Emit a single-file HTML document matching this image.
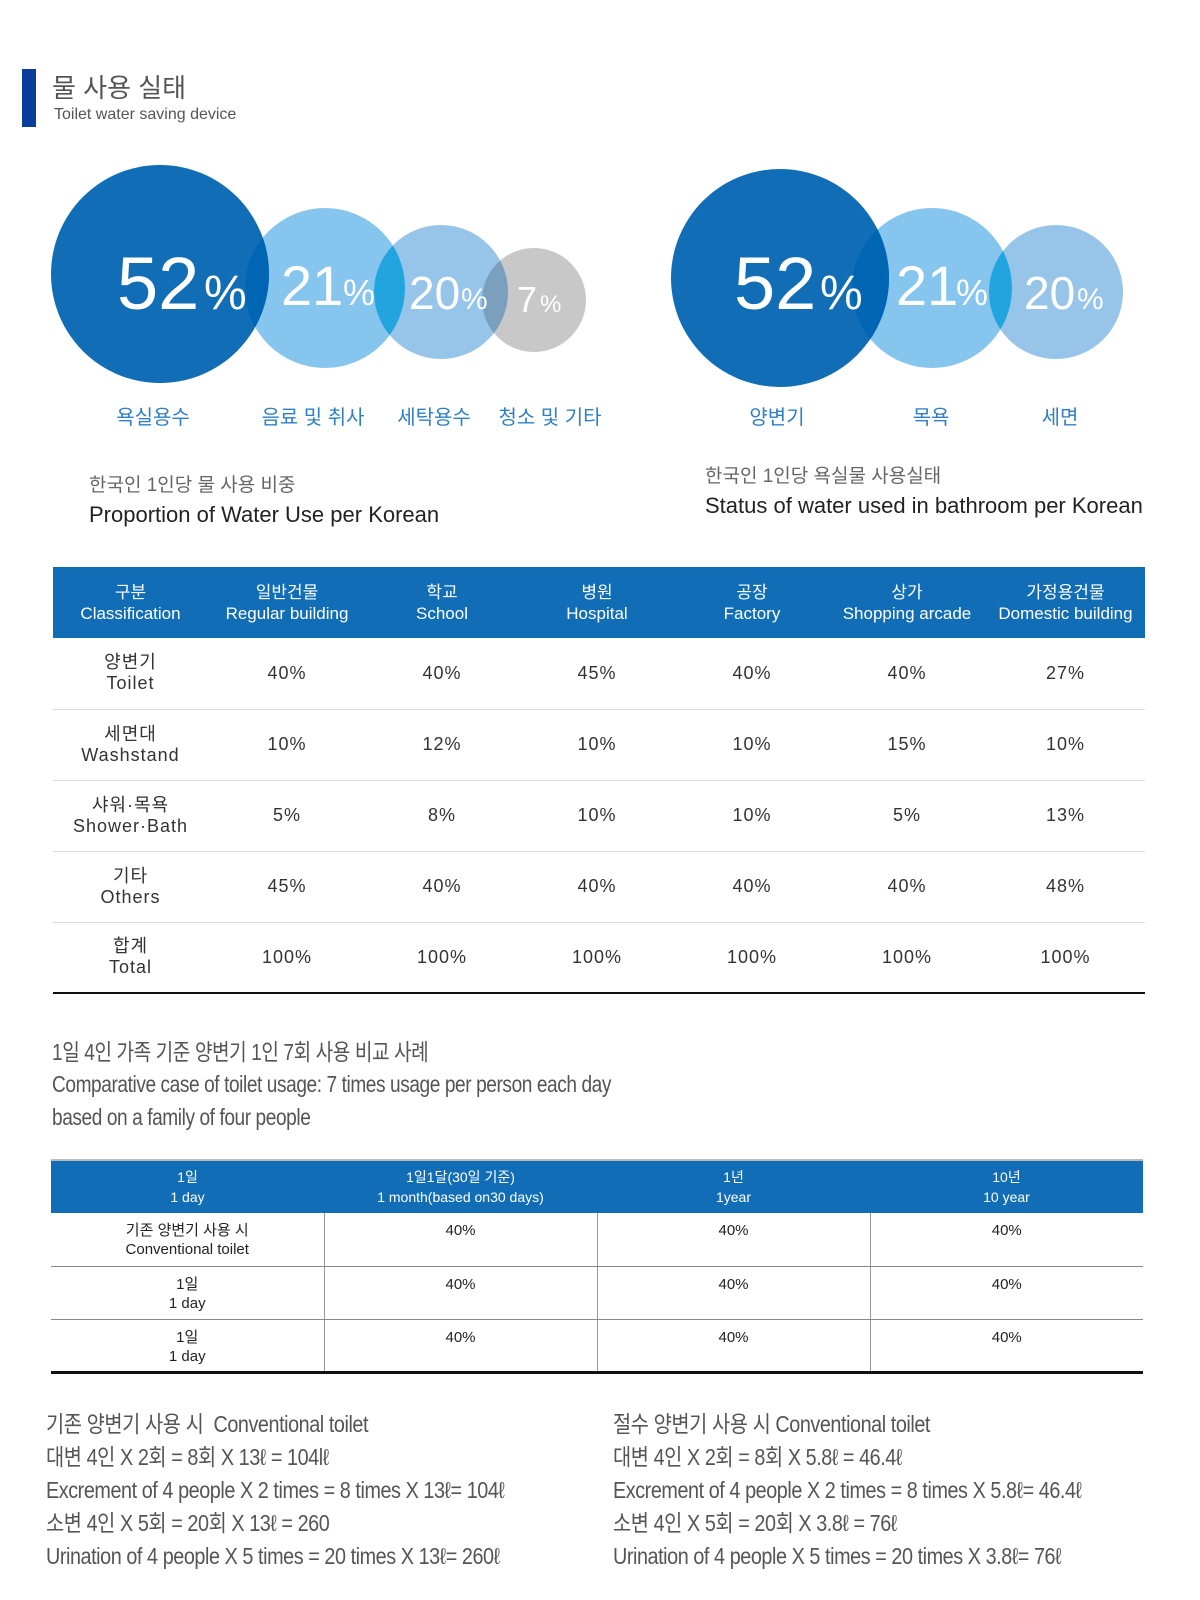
<!DOCTYPE html>
<html><head><meta charset="utf-8">
<style>
*{margin:0;padding:0;box-sizing:border-box}
body{width:1200px;height:1600px;background:#fff;position:relative;overflow:hidden;font-family:"Liberation Sans","Noto Sans CJK KR",sans-serif;color:#333}
.a{position:absolute;white-space:nowrap}
.lbl{position:absolute;color:#2e7fc6;font-size:20px;transform:translateX(-50%);top:401px}
.nar{transform:scaleX(0.86);transform-origin:left top;letter-spacing:-0.5px;color:#555;font-size:23px}
.nar2{transform:scaleX(0.83);transform-origin:left top;letter-spacing:-0.5px;color:#555;font-size:23px}
table{border-collapse:collapse;position:absolute}
.t1{left:53px;top:567px;width:1092px}
.t1 th{background:#116db5;color:#fff;font-weight:normal;font-size:17px;line-height:21px;height:71px}
.t1 td{text-align:center;height:71px;font-size:18px;line-height:21px;border-bottom:1px solid #ddd;color:#333;letter-spacing:1px}
.t1 tr:last-child td{border-bottom:2px solid #111}
.t2{left:51px;top:1159px;width:1092px}
.t2 th{background:#116db5;color:#fff;font-weight:normal;font-size:14px;line-height:20px;height:53px;border-top:2px solid #bbb}
.t2 td{text-align:center;vertical-align:top;padding-top:8px;height:53px;font-size:15px;line-height:19px;border-bottom:1px solid #888;border-left:1px solid #999;color:#222}
.t2 td:first-child{border-left:none}
.t2 tr:last-child td{border-bottom:3px solid #111}
</style></head><body>
<div class="a" style="left:22px;top:69px;width:14px;height:58px;background:#0b3d9a"></div>
<div class="a" style="left:52px;top:68px;font-size:26px;color:#555">물 사용 실태</div>
<div class="a" style="left:54px;top:106px;font-size:16px;color:#555">Toilet water saving device</div>

<svg class="a" style="left:0;top:0" width="1200" height="400">
<defs>
<clipPath id="c1"><circle cx="160" cy="274" r="109"/></clipPath>
<clipPath id="c2"><circle cx="325" cy="288" r="80"/></clipPath>
<clipPath id="c3"><circle cx="441" cy="292" r="67"/></clipPath>
<clipPath id="d1"><circle cx="780" cy="278" r="109"/></clipPath>
<clipPath id="d2"><circle cx="932" cy="288" r="80"/></clipPath>
</defs>
<circle cx="534" cy="300" r="52" fill="#c8c8c8"/>
<circle cx="441" cy="292" r="67" fill="#97c5ea"/>
<circle cx="325" cy="288" r="80" fill="#85c5ee"/>
<circle cx="160" cy="274" r="109" fill="#116db5"/>
<circle cx="325" cy="288" r="80" fill="#0066b3" clip-path="url(#c1)"/>
<circle cx="441" cy="292" r="67" fill="#22a5df" clip-path="url(#c2)"/>
<circle cx="534" cy="300" r="52" fill="#7aa0bd" clip-path="url(#c3)"/>
<circle cx="1056" cy="292" r="67" fill="#97c5ea"/>
<circle cx="932" cy="288" r="80" fill="#85c5ee"/>
<circle cx="780" cy="278" r="109" fill="#116db5"/>
<circle cx="932" cy="288" r="80" fill="#0066b3" clip-path="url(#d1)"/>
<circle cx="1056" cy="292" r="67" fill="#22a5df" clip-path="url(#d2)"/>
<g fill="#fff" font-family="Liberation Sans, sans-serif">
<text x="117" y="309" font-size="74">52</text><text x="204" y="309" font-size="48">%</text>
<text x="281" y="305" font-size="56">21</text><text x="343" y="305" font-size="36">%</text>
<text x="409" y="309" font-size="46">20</text><text x="461" y="309" font-size="30">%</text>
<text x="517" y="312" font-size="36">7</text><text x="540" y="312" font-size="24">%</text>
<text x="734" y="309" font-size="74">52</text><text x="820" y="309" font-size="48">%</text>
<text x="896" y="305" font-size="56">21</text><text x="956" y="305" font-size="36">%</text>
<text x="1024" y="309" font-size="46">20</text><text x="1077" y="309" font-size="30">%</text>
</g>
</svg>

<div class="lbl" style="left:153px">욕실용수</div>
<div class="lbl" style="left:313px">음료 및 취사</div>
<div class="lbl" style="left:434px">세탁용수</div>
<div class="lbl" style="left:550px">청소 및 기타</div>
<div class="lbl" style="left:777px">양변기</div>
<div class="lbl" style="left:931px">목욕</div>
<div class="lbl" style="left:1060px">세면</div>

<div class="a" style="left:89px;top:470px;font-size:19px;color:#666">한국인 1인당 물 사용 비중</div>
<div class="a" style="left:89px;top:502px;font-size:22px;color:#222">Proportion of Water Use per Korean</div>
<div class="a" style="left:705px;top:461px;font-size:19px;color:#666">한국인 1인당 욕실물 사용실태</div>
<div class="a" style="left:705px;top:493px;font-size:22px;color:#222">Status of water used in bathroom per Korean</div>

<table class="t1">
<tr><th style="width:155px">구분<br>Classification</th><th style="width:158px">일반건물<br>Regular building</th><th style="width:152px">학교<br>School</th><th style="width:158px">병원<br>Hospital</th><th style="width:152px">공장<br>Factory</th><th style="width:158px">상가<br>Shopping arcade</th><th>가정용건물<br>Domestic building</th></tr>
<tr><td>양변기<br>Toilet</td><td>40%</td><td>40%</td><td>45%</td><td>40%</td><td>40%</td><td>27%</td></tr>
<tr><td>세면대<br>Washstand</td><td>10%</td><td>12%</td><td>10%</td><td>10%</td><td>15%</td><td>10%</td></tr>
<tr><td>샤워·목욕<br>Shower·Bath</td><td>5%</td><td>8%</td><td>10%</td><td>10%</td><td>5%</td><td>13%</td></tr>
<tr><td>기타<br>Others</td><td>45%</td><td>40%</td><td>40%</td><td>40%</td><td>40%</td><td>48%</td></tr>
<tr><td>합계<br>Total</td><td>100%</td><td>100%</td><td>100%</td><td>100%</td><td>100%</td><td>100%</td></tr>
</table>

<div class="a nar2" style="left:52px;top:1033px">1일 4인 가족 기준 양변기 1인 7회 사용 비교 사례</div>
<div class="a nar2" style="left:52px;top:1071px">Comparative case of toilet usage: 7 times usage per person each day</div>
<div class="a nar2" style="left:52px;top:1104px">based on a family of four people</div>

<table class="t2">
<tr><th style="width:273px">1일<br>1 day</th><th style="width:273px">1일1달(30일 기준)<br>1 month(based on30 days)</th><th style="width:273px">1년<br>1year</th><th>10년<br>10 year</th></tr>
<tr><td>기존 양변기 사용 시<br>Conventional toilet</td><td>40%</td><td>40%</td><td>40%</td></tr>
<tr><td>1일<br>1 day</td><td>40%</td><td>40%</td><td>40%</td></tr>
<tr><td>1일<br>1 day</td><td>40%</td><td>40%</td><td>40%</td></tr>
</table>

<div class="a nar" style="left:46px;top:1405px">기존 양변기 사용 시&nbsp; Conventional toilet</div>
<div class="a nar" style="left:46px;top:1438px">대변 4인 X 2회 = 8회 X 13ℓ = 104lℓ</div>
<div class="a nar" style="left:46px;top:1477px">Excrement of 4 people X 2 times = 8 times X 13ℓ= 104ℓ</div>
<div class="a nar" style="left:46px;top:1504px">소변 4인 X 5회 = 20회 X 13ℓ = 260</div>
<div class="a nar" style="left:46px;top:1543px">Urination of 4 people X 5 times = 20 times X 13ℓ= 260ℓ</div>

<div class="a nar" style="left:613px;top:1405px">절수 양변기 사용 시 Conventional toilet</div>
<div class="a nar" style="left:613px;top:1438px">대변 4인 X 2회 = 8회 X 5.8ℓ = 46.4ℓ</div>
<div class="a nar" style="left:613px;top:1477px">Excrement of 4 people X 2 times = 8 times X 5.8ℓ= 46.4ℓ</div>
<div class="a nar" style="left:613px;top:1504px">소변 4인 X 5회 = 20회 X 3.8ℓ = 76ℓ</div>
<div class="a nar" style="left:613px;top:1543px">Urination of 4 people X 5 times = 20 times X 3.8ℓ= 76ℓ</div>
</body></html>
